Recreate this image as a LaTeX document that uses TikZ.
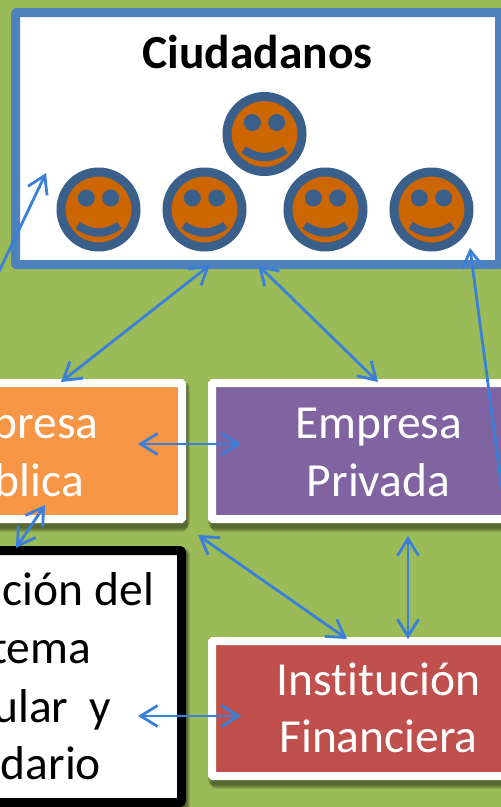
\documentclass[tikz,border=0pt]{standalone}
\usepackage{fontspec}
\setmainfont{Carlito}[Ligatures=NoCommon]
\usetikzlibrary{arrows.meta}
\definecolor{bggreen}{HTML}{9BBB59}
\definecolor{frameblue}{HTML}{4F81BD}
\definecolor{facefill}{HTML}{CC6600}
\definecolor{faceline}{HTML}{3A5F8B}
\definecolor{arrowblue}{HTML}{3A7FD9}
\definecolor{orangebox}{HTML}{F79646}
\definecolor{purplebox}{HTML}{8064A2}
\definecolor{redbox}{HTML}{C0504D}
\tikzset{
  x=1pt,y=-1pt,
  every node/.style={outer sep=0pt},
  link/.style={draw=arrowblue,line width=2.8pt,{Straight Barb[length=17pt,width=21pt,line width=2.8pt]}-{Straight Barb[length=17pt,width=21pt,line width=2.8pt]}},
  linkone/.style={draw=arrowblue,line width=2.8pt,-{Straight Barb[length=17pt,width=21pt,line width=2.8pt]}},
  whitebox/.style={draw=white,line width=8pt,rounded corners=1pt},
  label/.style={font=\fontsize{47.5}{47.5}\selectfont,text=white,anchor=base,inner sep=0pt},
  cutlabel/.style={font=\fontsize{47.5}{47.5}\selectfont,text=white,anchor=base east,inner sep=0pt},
  darklabel/.style={font=\fontsize{47.5}{47.5}\selectfont,text=black,anchor=base east,inner sep=0pt},
  softshadow/.style={fill=black,fill opacity=0.1,draw=none,rounded corners=5pt}
}
\newcommand{\boxshadow}[4]{%
  \foreach \g in {0,1.5,3,4.5,6}{
    \fill[softshadow] (#1-\g/2+3,#2+3) rectangle (#3+\g/2+1,#4+9-\g/1.5);
  }}
\newcommand{\smiley}[3]{%
  \begin{scope}[shift={(#2,#3)}]
    \node[circle,minimum size=75pt,inner sep=0pt,draw=faceline,line width=9pt,fill=facefill] (#1) at (0,0) {};
    \fill[faceline] (-12.2,-11.5) circle (8.5);
    \fill[faceline] (12.2,-11.5) circle (8.5);
    \fill[faceline] (-23,19) .. controls (-8,30) and (8,30) .. (23,19)
      -- (18.5,12.5) .. controls (6,21) and (-6,21) .. (-18.5,12.5) -- cycle;
  \end{scope}}
\begin{document}
\begin{tikzpicture}
\useasboundingbox (0,0) rectangle (501,807);
\begin{scope}
\clip (0,0) rectangle (501,807);
\fill[bggreen] (0,0) rectangle (501,807);

% Ciudadanos panel
\node[draw=frameblue,line width=9pt,fill=white,rounded corners=1pt,minimum width=484pt,minimum height=252pt,inner sep=0pt,anchor=north west] (panel) at (15.5,12.5) {};
\node[font=\bfseries\fontsize{47.5}{47.5}\selectfont,anchor=base,inner sep=0pt] (title) at (257.5,68) {Ciudadanos};
\smiley{s0}{264.5}{134}
\smiley{s1}{98.5}{209.5}
\smiley{s2}{204.5}{209.5}
\smiley{s3}{325.5}{209.5}
\smiley{s4}{431.5}{209.5}

% Boxes
\boxshadow{-160}{379}{186}{523}
\boxshadow{208}{379}{550}{523}
\boxshadow{208}{637}{550}{780}
\boxshadow{-160}{546}{186}{806}
\node[whitebox,fill=orangebox,minimum width=338pt,minimum height=136pt,inner sep=0pt,anchor=north east] (pub) at (182,383) {};
\node[whitebox,fill=purplebox,minimum width=338pt,minimum height=136pt,inner sep=0pt,anchor=north west] (priv) at (212,383) {};
\node[whitebox,fill=redbox,minimum width=338pt,minimum height=135pt,inner sep=0pt,anchor=north west] (fin) at (212,641) {};
\node[draw=black,line width=9pt,fill=white,rounded corners=2pt,minimum width=340pt,minimum height=252pt,inner sep=0pt,anchor=north east] (inst) at (181.5,550.5) {};

% Labels
\node[cutlabel] (pub1) at (98.5,438) {presa};
\node[cutlabel] (pub2) at (84,496) {blica};
\node[label] (priv1) at (378.5,438) {Empresa};
\node[label] (priv2) at (378.5,496) {Privada};
\node[label] (fin1) at (378.5,695) {Institución};
\node[label] (fin2) at (378.5,752.5) {Financiera};
\node[darklabel] (inst1) at (154,605) {ción del};
\node[darklabel] (inst2) at (91,663) {tema};
\node[darklabel] (inst3) at (111.5,722) {ular\ \ y};
\node[darklabel] (inst4) at (101,779) {dario};

% Connector ends
\coordinate (a1) at (61,382); \coordinate (a2) at (210,265);
\coordinate (b1) at (258,265); \coordinate (b2) at (378,382);
\coordinate (c1) at (138,444); \coordinate (c2) at (241,444);
\coordinate (d1) at (16,548); \coordinate (d2) at (45,505);
\coordinate (e1) at (198,535); \coordinate (e2) at (347,639);
\coordinate (f1) at (408,536); \coordinate (f2) at (408,639);
\coordinate (g1) at (138,716); \coordinate (g2) at (241,716);
\coordinate (h1) at (-5,280); \coordinate (h2) at (46,173);
\coordinate (i1) at (503,497); \coordinate (i2) at (470,248);

\draw[link] (a1) -- (a2);
\draw[link] (b1) -- (b2);
\draw[link] (c1) -- (c2);
\draw[link] (d1) -- (d2);
\draw[link] (e1) -- (e2);
\draw[link] (f1) -- (f2);
\draw[link] (g1) -- (g2);
\draw[linkone] (h1) -- (h2);
\draw[linkone] (i1) -- (i2);
\end{scope}
\end{tikzpicture}
\end{document}
